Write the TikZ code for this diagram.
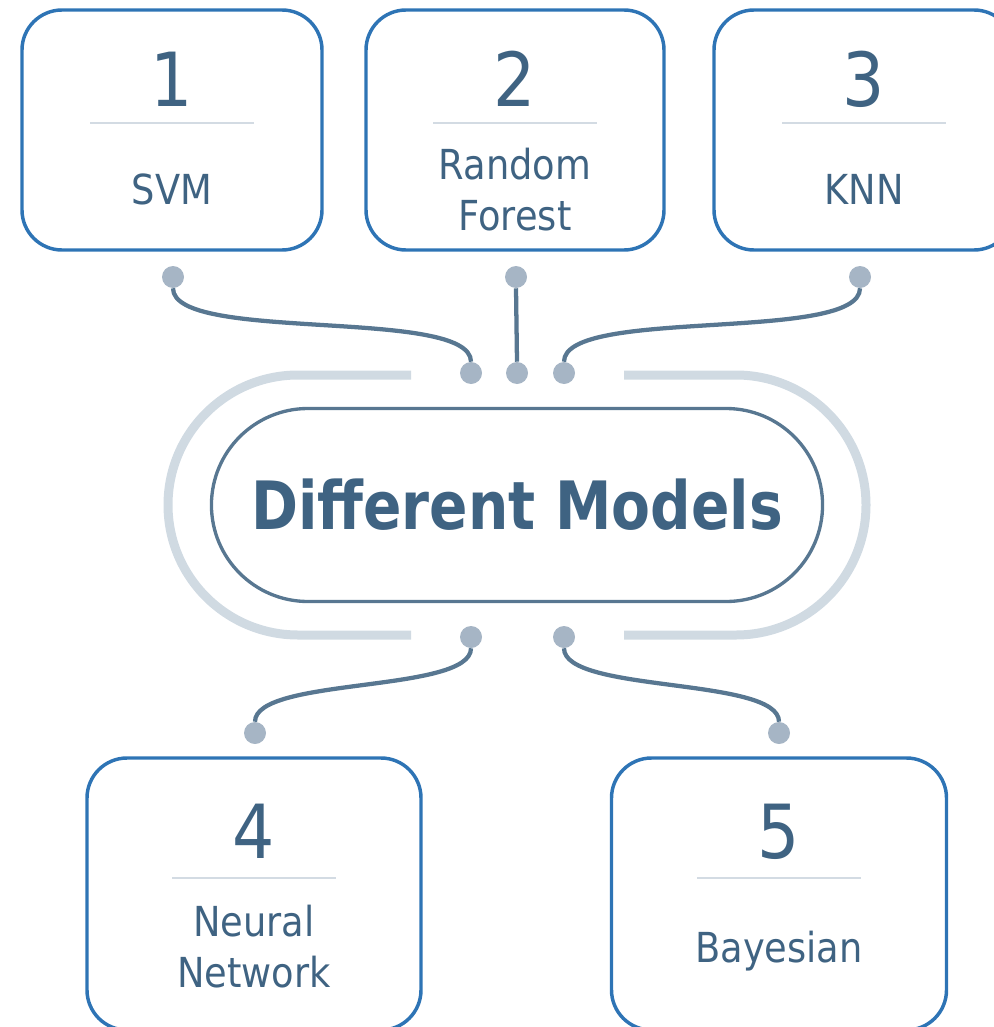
\documentclass[tikz,border=0pt]{standalone}
\usepackage{fontspec}
\setmainfont{DejaVu Sans}[FakeStretch=0.89]
\newfontfamily\titlefont{DejaVu Sans}[FakeStretch=0.85]
\usetikzlibrary{shapes.misc}

\definecolor{boxblue}{HTML}{2E74B5}
\definecolor{inkblue}{HTML}{3F6382}
\definecolor{wireblue}{HTML}{587791}
\definecolor{dotgray}{HTML}{A6B5C5}
\definecolor{halogray}{HTML}{D0DAE2}
\definecolor{sepgray}{HTML}{D3DBE3}

\tikzset{
  modelbox/.style={draw=boxblue, line width=2.6pt, rounded corners=30pt, inner sep=0pt},
  numtext/.style={text=inkblue, anchor=base, font=\fontsize{56}{60}\selectfont},
  labeltext/.style={text=inkblue, anchor=base, align=center, font=\fontsize{31}{38}\selectfont},
  sepline/.style={draw=sepgray, line width=1.2pt},
  wire/.style={draw=wireblue, line width=3.2pt},
  dot/.style={circle, fill=dotgray, minimum size=16.5pt, inner sep=0pt},
  halo/.style={draw=halogray, line width=6.75pt, rounded corners=97.5pt},
  hub/.style={rounded rectangle, draw=wireblue, line width=2.5pt, minimum width=465pt, minimum height=144.75pt, text=inkblue}
}

\begin{document}
\begin{tikzpicture}[x=0.75pt,y=-0.75pt]
\useasboundingbox (0,0) rectangle (993,1027);

% model boxes: name/x/y centre/width/height/number baseline/separator/label baseline (last line)/label
\foreach \n/\x/\y/\w/\h/\yn/\ys/\yl/\lab in {
    1/172/130/225pt/180pt/107/123/204/SVM,
    2/515/130/223.5pt/180pt/107/123/230/{Random\\Forest},
    3/864/130/225pt/180pt/107/123/204/KNN,
    4/254/894/250.5pt/204pt/858/878/987/{Neural\\Network},
    5/779/894/251.25pt/204pt/858/878/962/Bayesian}{
  \node[modelbox, minimum width=\w, minimum height=\h] (box\n) at (\x,\y) {};
  \node[numtext] (num\n) at (\x,\yn) {\n};
  \draw[sepline] (\x-82,\ys) -- (\x+82,\ys);
  \node[labeltext] (lab\n) at (\x,\yl) {\lab};
}

% halo around the hub
\draw[halo] (411,375) -- (168,375) -- (168,635) -- (411,635);
\draw[halo] (624,375) -- (866,375) -- (866,635) -- (624,635);

\node[hub] (hub) at (517,505) {\titlefont\bfseries\fontsize{50}{58}\selectfont Different Models};

% connector dots
\node[dot] (t1) at (173,277) {};
\node[dot] (t2) at (516,277) {};
\node[dot] (t3) at (860,277) {};
\node[dot] (m1) at (471,373) {};
\node[dot] (m2) at (517,373) {};
\node[dot] (m3) at (564,373) {};
\node[dot] (b1) at (471,637) {};
\node[dot] (b2) at (564,637) {};
\node[dot] (l4) at (255,733) {};
\node[dot] (l5) at (779,733) {};

% wires
\draw[wire] (t1.south) .. controls +(0,55) and +(0,-55) .. (m1.north);
\draw[wire] (t2.south) -- (m2.north);
\draw[wire] (t3.south) .. controls +(0,55) and +(0,-55) .. (m3.north);
\draw[wire] (b1.south) .. controls +(0,45) and +(0,-45) .. (l4.north);
\draw[wire] (b2.south) .. controls +(0,45) and +(0,-45) .. (l5.north);
\end{tikzpicture}
\end{document}
